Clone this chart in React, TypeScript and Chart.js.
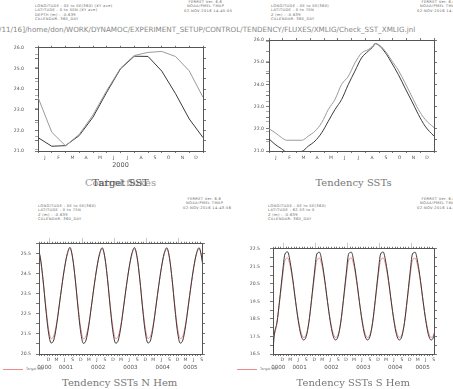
import React, { useEffect, useRef } from 'react';
import { Chart, registerables } from 'chart.js';

Chart.register(...registerables);

// ---------------- data ----------------
const MONTH_LETTERS = ['J', 'F', 'M', 'A', 'M', 'J', 'J', 'A', 'S', 'O', 'N', 'D'];
const MONTH_EDGES = [0, 1, 2, 3, 4, 5, 6, 7, 8, 9, 10, 11, 12];
const MONTH_CENTRES = [0.5, 1.5, 2.5, 3.5, 4.5, 5.5, 6.5, 7.5, 8.5, 9.5, 10.5, 11.5];

// Top-left: "Control fluxes" / "Target SST", year 2000
const TL_X = [0, 1, 2, 3, 4, 5, 6, 7, 8, 9, 10, 11, 12];
const TL_DARK = [21.65, 21.23, 21.26, 21.75, 22.64, 23.85, 24.98, 25.59, 25.58, 24.87, 23.78, 22.55, 21.65];
const TL_LIGHT = [20.234, 19.978, 19.878, 19.962, 20.105, 20.284, 20.448, 20.541, 20.564, 20.571, 20.534, 20.428, 20.234];
const TL_A_TICKS = [21, 21.5, 22, 22.5, 23, 23.5, 24, 24.5, 25, 25.5, 26];
const TL_B_TICKS = [19.85, 19.95, 20.05, 20.15, 20.25, 20.35, 20.45, 20.55];

// Top-right: "Tendency SSTs"
const TR_X = [0, 0.44, 0.92, 1.28, 2.38, 2.86, 3.35, 3.83, 4.32, 4.8, 5.28, 5.77, 6.25, 6.74, 7.22, 7.59, 7.71, 8.07, 8.56, 8.92, 9.41, 9.89, 10.38, 10.86, 11.35, 12];
const TR_DARK = [21.55, 21.3, 21.1, 20.95, 20.98, 21.22, 21.45, 21.82, 22.35, 22.87, 23.32, 24.0, 24.6, 25.2, 25.5, 25.72, 25.84, 25.72, 25.34, 24.97, 24.44, 23.84, 23.25, 22.65, 22.12, 21.67];
const TR_LIGHT = [21.62, 21.42, 21.17, 21.04, 21.04, 21.25, 21.5, 21.92, 22.59, 23.09, 23.84, 24.25, 24.92, 25.42, 25.59, 25.79, 25.89, 25.79, 25.42, 25.04, 24.55, 23.92, 23.25, 22.59, 22.09, 21.67];
const TR_A_TICKS = [21, 21.5, 22, 22.5, 23, 23.5, 24, 24.5, 25, 25.5, 26];
const TR_B_TICKS = [21, 21.5, 22, 22.5, 23, 23.5, 24, 24.5, 25, 25.5, 26];

// Bottom panels: monthly (months since Jan 0000, mid-month)
const BOT_X = [
  7.5, 8.5, 9.5, 10.5, 11.5,
  12.5, 13.5, 14.5, 15.5, 16.5, 17.5, 18.5, 19.5, 20.5, 21.5, 22.5, 23.5,
  24.5, 25.5, 26.5, 27.5, 28.5, 29.5, 30.5, 31.5, 32.5, 33.5, 34.5, 35.5,
  36.5, 37.5, 38.5, 39.5, 40.5, 41.5, 42.5, 43.5, 44.5, 45.5, 46.5, 47.5,
  48.5, 49.5, 50.5, 51.5, 52.5, 53.5, 54.5, 55.5, 56.5, 57.5, 58.5, 59.5,
  60.5, 61.5, 62.5, 63.5, 64.5, 65.5, 66.5, 67.5, 68.5, 69.5,
];
const N_DARK = [
  25.8, 25.3, 24.2, 22.8, 21.6,
  21.05, 21.2, 21.9, 22.9, 23.9, 24.8, 25.5, 25.82, 25.3, 24.2, 22.8, 21.6,
  21.03, 21.2, 21.9, 22.9, 23.9, 24.8, 25.5, 25.8, 25.3, 24.2, 22.8, 21.6,
  21.04, 21.2, 21.9, 22.9, 23.9, 24.8, 25.5, 25.81, 25.3, 24.2, 22.8, 21.6,
  21.05, 21.2, 21.9, 22.9, 23.9, 24.8, 25.5, 25.8, 25.3, 24.2, 22.8, 21.6,
  21.04, 21.2, 21.9, 22.9, 23.9, 24.8, 25.5, 25.8, 25.3, 24.2,
];
const N_RED = [
  25.75, 25.3, 24.2, 22.9, 21.8,
  21.27, 21.4, 22.0, 22.9, 23.9, 24.8, 25.45, 25.76, 25.3, 24.2, 22.9, 21.8,
  21.26, 21.4, 22.0, 22.9, 23.9, 24.8, 25.45, 25.75, 25.3, 24.2, 22.9, 21.8,
  21.27, 21.4, 22.0, 22.9, 23.9, 24.8, 25.45, 25.75, 25.3, 24.2, 22.9, 21.8,
  21.28, 21.4, 22.0, 22.9, 23.9, 24.8, 25.45, 25.74, 25.3, 24.2, 22.9, 21.8,
  21.27, 21.4, 22.0, 22.9, 23.9, 24.8, 25.45, 25.75, 25.3, 24.2,
];
const S_DARK = [
  15.6, 17.6, 18.3, 19.6, 21.0,
  22.2, 22.32, 21.7, 20.7, 19.5, 18.4, 17.6, 17.3, 17.5, 18.3, 19.6, 21.0,
  22.2, 22.3, 21.7, 20.7, 19.5, 18.4, 17.6, 17.3, 17.5, 18.3, 19.6, 21.0,
  22.22, 22.3, 21.7, 20.7, 19.5, 18.4, 17.6, 17.3, 17.5, 18.3, 19.6, 21.0,
  22.2, 22.31, 21.7, 20.7, 19.5, 18.4, 17.6, 17.3, 17.5, 18.3, 19.6, 21.0,
  22.2, 22.3, 21.7, 20.7, 19.5, 18.4, 17.6, 17.3, 17.5, 18.3,
];
const S_RED = [
  17.45, 17.6, 18.3, 19.5, 20.8,
  21.85, 21.97, 21.5, 20.6, 19.5, 18.5, 17.75, 17.45, 17.6, 18.3, 19.5, 20.8,
  21.85, 21.96, 21.5, 20.6, 19.5, 18.5, 17.75, 17.45, 17.6, 18.3, 19.5, 20.8,
  21.86, 21.97, 21.5, 20.6, 19.5, 18.5, 17.75, 17.44, 17.6, 18.3, 19.5, 20.8,
  21.85, 21.97, 21.5, 20.6, 19.5, 18.5, 17.75, 17.45, 17.6, 18.3, 19.5, 20.8,
  21.85, 21.96, 21.5, 20.6, 19.5, 18.5, 17.75, 17.45, 17.6, 18.3,
];
const BOT_MONTH_TICKS = [
  8, 9, 10, 11, 12, 13, 14, 15, 16, 17, 18, 19, 20, 21, 22, 23, 24, 25, 26, 27, 28, 29, 30,
  31, 32, 33, 34, 35, 36, 37, 38, 39, 40, 41, 42, 43, 44, 45, 46, 47, 48, 49, 50, 51, 52, 53,
  54, 55, 56, 57, 58, 59, 60, 61, 62, 63, 64, 65, 66, 67, 68,
];
const BOT_YEAR_EDGES = [12, 24, 36, 48, 60];
const BOT_QUARTER_POS = [11.5, 14.5, 17.5, 20.5, 23.5, 26.5, 29.5, 32.5, 35.5, 38.5, 41.5, 44.5, 47.5, 50.5, 53.5, 56.5, 59.5, 62.5, 65.5, 68.5];
const BOT_QUARTER_LETTERS = ['D', 'M', 'J', 'S', 'D', 'M', 'J', 'S', 'D', 'M', 'J', 'S', 'D', 'M', 'J', 'S', 'D', 'M', 'J', 'S'];
const YEAR_LABELS = ['0000', '0001', '0002', '0003', '0004', '0005'];
const YEAR_POS = [10, 18, 30, 42, 54, 64.3];
const N_Y_TICKS = [20.5, 21, 21.5, 22, 22.5, 23, 23.5, 24, 24.5, 25, 25.5, 26];
const S_Y_TICKS = [16.5, 17, 17.5, 18, 18.5, 19, 19.5, 20, 20.5, 21, 21.5, 22, 22.5];

// ---------------- styling helpers ----------------
const FONT = 'DejaVu Sans';
const AXIS = '#555';
const LAB_DARK = '#555';
const LAB_LIGHT = '#aaa';
const LINE_DARK = '#3a3a3a';
const LINE_LIGHT = '#9a9a9a';
const LINE_RED = '#ee8a8a';
const TICK_FONT = { family: FONT, size: 4.6 };

const setTicks = (vals: number[]) => (s: any) => {
  s.ticks = vals.map((v) => ({ value: v }));
};
const setW = (w: number) => (s: any) => {
  s.width = w;
};
const setH = (h: number) => (s: any) => {
  s.height = h;
};

function markAxis(position: string, min: number, max: number, vals: number[], size: number, tickLength: number, weight: number, border: boolean, tickColor = AXIS) {
  return {
    type: 'linear',
    position,
    min,
    max,
    weight,
    afterBuildTicks: setTicks(vals),
    afterFit: position === 'left' || position === 'right' ? setW(size) : setH(size),
    ticks: { display: false, autoSkip: false },
    grid: { display: true, drawOnChartArea: false, drawTicks: true, tickLength, tickColor, tickWidth: 0.8 },
    border: { display: border, color: AXIS, width: 1 },
  };
}

function yLabelAxis(min: number, max: number, vals: number[], fmt: (v: number) => string, width: number, weight: number, padding: number, color: string, border: boolean) {
  return {
    type: 'linear',
    position: 'left',
    min,
    max,
    weight,
    afterBuildTicks: setTicks(vals),
    afterFit: setW(width),
    ticks: { autoSkip: false, padding, font: TICK_FONT, color, callback: (v: any) => fmt(Number(v)) },
    grid: { display: true, drawOnChartArea: false, drawTicks: true, tickLength: 3, tickColor: color === LAB_LIGHT ? '#999' : AXIS, tickWidth: 0.8 },
    border: { display: border, color: AXIS, width: 1 },
  };
}

function xLabelAxis(min: number, max: number, vals: number[], labels: string[], height: number, weight: number, padding: number, size: number, title?: any) {
  return {
    type: 'linear',
    position: 'bottom',
    min,
    max,
    weight,
    afterBuildTicks: setTicks(vals),
    afterFit: setH(height),
    ticks: {
      autoSkip: false,
      maxRotation: 0,
      minRotation: 0,
      padding,
      font: { family: FONT, size },
      color: LAB_DARK,
      callback: (_v: any, i: number) => labels[i],
    },
    grid: { display: false, drawTicks: false },
    border: { display: false },
    title: title || { display: false },
  };
}

const intLabel = (v: number) => (Math.abs(v - Math.round(v)) < 1e-6 ? v.toFixed(1) : '');
const halfLabel = (v: number) => (Math.abs(v - Math.floor(v) - 0.5) < 1e-6 ? v.toFixed(1) : '');

function line(xs: number[], ys: number[], color: string, yAxisID: string, smooth = false) {
  return {
    data: xs.map((x, i) => ({ x, y: ys[i] })),
    borderColor: color,
    backgroundColor: color,
    borderWidth: 1,
    pointRadius: 0,
    fill: false,
    xAxisID: 'x',
    yAxisID,
    cubicInterpolationMode: smooth ? 'monotone' : 'default',
  };
}

const baseOptions = (padding: any, scales: any) => ({
  responsive: false,
  animation: false,
  events: [],
  layout: { padding },
  plugins: { legend: { display: false }, tooltip: { enabled: false }, title: { display: false } },
  scales,
});

function makeTL() {
  return {
    type: 'line',
    data: {
      datasets: [line(TL_X, TL_LIGHT, LINE_LIGHT, 'yb'), line(TL_X, TL_DARK, LINE_DARK, 'y')],
    },
    options: baseOptions({ top: 6, right: 0, bottom: 0, left: 0 }, {
      xm: markAxis('bottom', 0, 12, MONTH_EDGES, 0, 2, 0, true),
      x: xLabelAxis(0, 12, MONTH_CENTRES, MONTH_LETTERS, 25, 1, 4.5, 4.6, {
        display: true,
        text: '2000',
        color: LAB_DARK,
        font: { family: FONT, size: 6.5 },
        padding: { top: 0, bottom: 6.4 },
      }),
      xt: markAxis('top', 0, 12, MONTH_EDGES, 0, 2, 0, true),
      y: yLabelAxis(21, 26, TL_A_TICKS, intLabel, 38, 1, 11, LAB_DARK, true),
      yb: yLabelAxis(19.84, 20.598, TL_B_TICKS, (v) => v.toFixed(2), 0, 0, 11, LAB_LIGHT, false),
      yr: markAxis('right', 21, 26, TL_A_TICKS, 27, 3, 0, true),
    }),
  };
}

function makeTR() {
  return {
    type: 'line',
    data: {
      datasets: [line(TR_X, TR_LIGHT, LINE_LIGHT, 'yb', true), line(TR_X, TR_DARK, LINE_DARK, 'y', true)],
    },
    options: baseOptions({ top: 6, right: 0, bottom: 0, left: 0 }, {
      xm: markAxis('bottom', 0, 12, MONTH_EDGES, 0, 2, 0, true),
      x: xLabelAxis(0, 12, MONTH_CENTRES, MONTH_LETTERS, 25, 1, 4.5, 4.6),
      xt: markAxis('top', 0, 12, MONTH_EDGES, 0, 2, 0, true),
      y: yLabelAxis(21, 26, TR_A_TICKS, intLabel, 39, 1, 2, LAB_DARK, true),
      yb: yLabelAxis(20.5, 26.07, TR_B_TICKS, halfLabel, 0, 0, 2, LAB_LIGHT, false),
      yr: markAxis('right', 21, 26, TR_A_TICKS, 19, 3, 0, true),
    }),
  };
}

function makeBottom(dark: number[], red: number[], yMin: number, yMax: number, yTicks: number[], left: number, right: number, xMin: number, xMax: number, labelPad: number) {
  return {
    type: 'line',
    data: {
      datasets: [line(BOT_X, dark, LINE_DARK, 'y', true), line(BOT_X, red, LINE_RED, 'y', true)],
    },
    options: baseOptions({ top: 6, right: 0, bottom: 0, left: 0 }, {
      xm: markAxis('bottom', xMin, xMax, BOT_MONTH_TICKS, 0, 2, 0, true),
      x: xLabelAxis(xMin, xMax, BOT_QUARTER_POS, BOT_QUARTER_LETTERS, 10, 1, 3.3, 4.6),
      xy: xLabelAxis(xMin, xMax, YEAR_POS, YEAR_LABELS, 12, 2, 0.4, 5.6),
      xt: markAxis('top', xMin, xMax, BOT_MONTH_TICKS, 0, 2, 0, true),
      xt2: markAxis('top', xMin, xMax, BOT_YEAR_EDGES, 0, 6, 1, false, '#bbb'),
      y: yLabelAxis(yMin, yMax, yTicks, halfLabel, left, 1, labelPad, LAB_DARK, true),
      yr: markAxis('right', yMin, yMax, yTicks, right, 3, 0, true),
    }),
  };
}

function ChartBox({ x, y, w, h, make }: { x: number; y: number; w: number; h: number; make: () => any }) {
  const ref = useRef<HTMLCanvasElement | null>(null);
  useEffect(() => {
    const chart = new Chart(ref.current as HTMLCanvasElement, make());
    return () => chart.destroy();
  }, []);
  return (
    <div style={{ position: 'absolute', left: x, top: y, width: w, height: h }}>
      <canvas ref={ref} width={w} height={h} style={{ display: 'block', width: w, height: h }} />
    </div>
  );
}

function Tiny({ x, y, lines }: { x: number; y: number; lines: string[] }) {
  return (
    <div
      style={{
        position: 'absolute',
        left: x,
        top: y,
        fontFamily: FONT,
        fontSize: 3.6,
        lineHeight: '4.4px',
        letterSpacing: 0.35,
        color: '#666',
        whiteSpace: 'pre',
      }}
    >
      {lines.map((l, i) => (
        <div key={i}>{l}</div>
      ))}
    </div>
  );
}

function Title({ cx, cy, text, color = '#777', size = 10 }: { cx: number; cy: number; text: string; color?: string; size?: number }) {
  return (
    <div
      style={{
        position: 'absolute',
        left: cx - 150,
        width: 300,
        top: cy - size * 0.6,
        textAlign: 'center',
        fontFamily: 'DejaVu Serif',
        fontSize: size,
        lineHeight: `${size * 1.2}px`,
        color,
        whiteSpace: 'pre',
      }}
    >
      {text}
    </div>
  );
}

export default function App() {
  const makeBL = () => makeBottom(N_DARK, N_RED, 20.5, 26.0, N_Y_TICKS, 39, 28, 8, 68.6, 5);
  const makeBR = () => makeBottom(S_DARK, S_RED, 16.5, 22.5, S_Y_TICKS, 43, 19, 8, 68.6, 10);
  return (
    <div style={{ position: 'absolute', left: 0, top: 0, width: 453, height: 389, background: '#fff', overflow: 'hidden' }}>
      <ChartBox x={0} y={34} w={230} h={142} make={makeTL} />
      <ChartBox x={230} y={34} w={223} h={142} make={makeTR} />
      <ChartBox x={0} y={236} w={230} h={140} make={makeBL} />
      <ChartBox x={230} y={236} w={223} h={140} make={makeBR} />

      <Tiny x={35} y={4} lines={['LONGITUDE : 0E to 0E(360) (XY ave)', 'LATITUDE : 0 to 50N (XY ave)', 'DEPTH (m) : -0.639', 'CALENDAR: 360_DAY']} />
      <Tiny x={184} y={0} lines={['   FERRET Ver. 6.6', '  NOAA/PMEL TMAP', '02-NOV-2016 14:45:05']} />
      <Tiny x={271} y={4} lines={['LONGITUDE : 0E to 0E(360)', 'LATITUDE : 0 to 70N', 'Z (m) : -0.639', 'CALENDAR: 360_DAY']} />
      <Tiny x={417} y={0} lines={['   FERRET Ver. 6.6', '  NOAA/PMEL TMAP', '02-NOV-2016 14:44:59']} />
      <Tiny x={38} y={204} lines={['LONGITUDE : 0E to 0E(360)', 'LATITUDE : 0 to 75N', 'Z (m) : -0.639', 'CALENDAR: 360_DAY']} />
      <Tiny x={183} y={197} lines={['   FERRET Ver. 6.6', '  NOAA/PMEL TMAP', '02-NOV-2016 14:43:56']} />
      <Tiny x={268} y={204} lines={['LONGITUDE : 0E to 0E(360)', 'LATITUDE : 62.5S to 0', 'Z (m) : -0.639', 'CALENDAR: 360_DAY']} />
      <Tiny x={417} y={197} lines={['   FERRET Ver. 6.6', '  NOAA/PMEL TMAP', '02-NOV-2016 14:43:57']} />

      <div
        style={{
          position: 'absolute',
          left: -1,
          top: 25,
          fontFamily: FONT,
          fontSize: 7.2,
          lineHeight: '9px',
          color: '#888',
          whiteSpace: 'pre',
        }}
      >
        /11/16]/home/don/WORK/DYNAMOC/EXPERIMENT_SETUP/CONTROL/TENDENCY/FLUXES/XMLIG/Check_SST_XMLIG.jnl
      </div>

      <Title cx={120.5} cy={182.7} text="Control fluxes" color="#9a9a9a" />
      <Title cx={120.5} cy={182.7} text="Target SST" color="#555" />
      <Title cx={353.5} cy={182.7} text="Tendency SSTs" />
      <Title cx={119.7} cy={383.3} text="Tendency SSTs N Hem" />
      <Title cx={353.3} cy={383.3} text="Tendency SSTs S Hem" />

      <div style={{ position: 'absolute', left: 3, top: 369, width: 20, height: 1, background: LINE_RED }} />
      <div style={{ position: 'absolute', left: 26, top: 367, fontFamily: FONT, fontSize: 3.4, color: '#777', whiteSpace: 'pre' }}>Target SST</div>
      <div style={{ position: 'absolute', left: 237, top: 369, width: 20, height: 1, background: LINE_RED }} />
      <div style={{ position: 'absolute', left: 260, top: 367, fontFamily: FONT, fontSize: 3.4, color: '#777', whiteSpace: 'pre' }}>Target SST</div>
    </div>
  );
}
